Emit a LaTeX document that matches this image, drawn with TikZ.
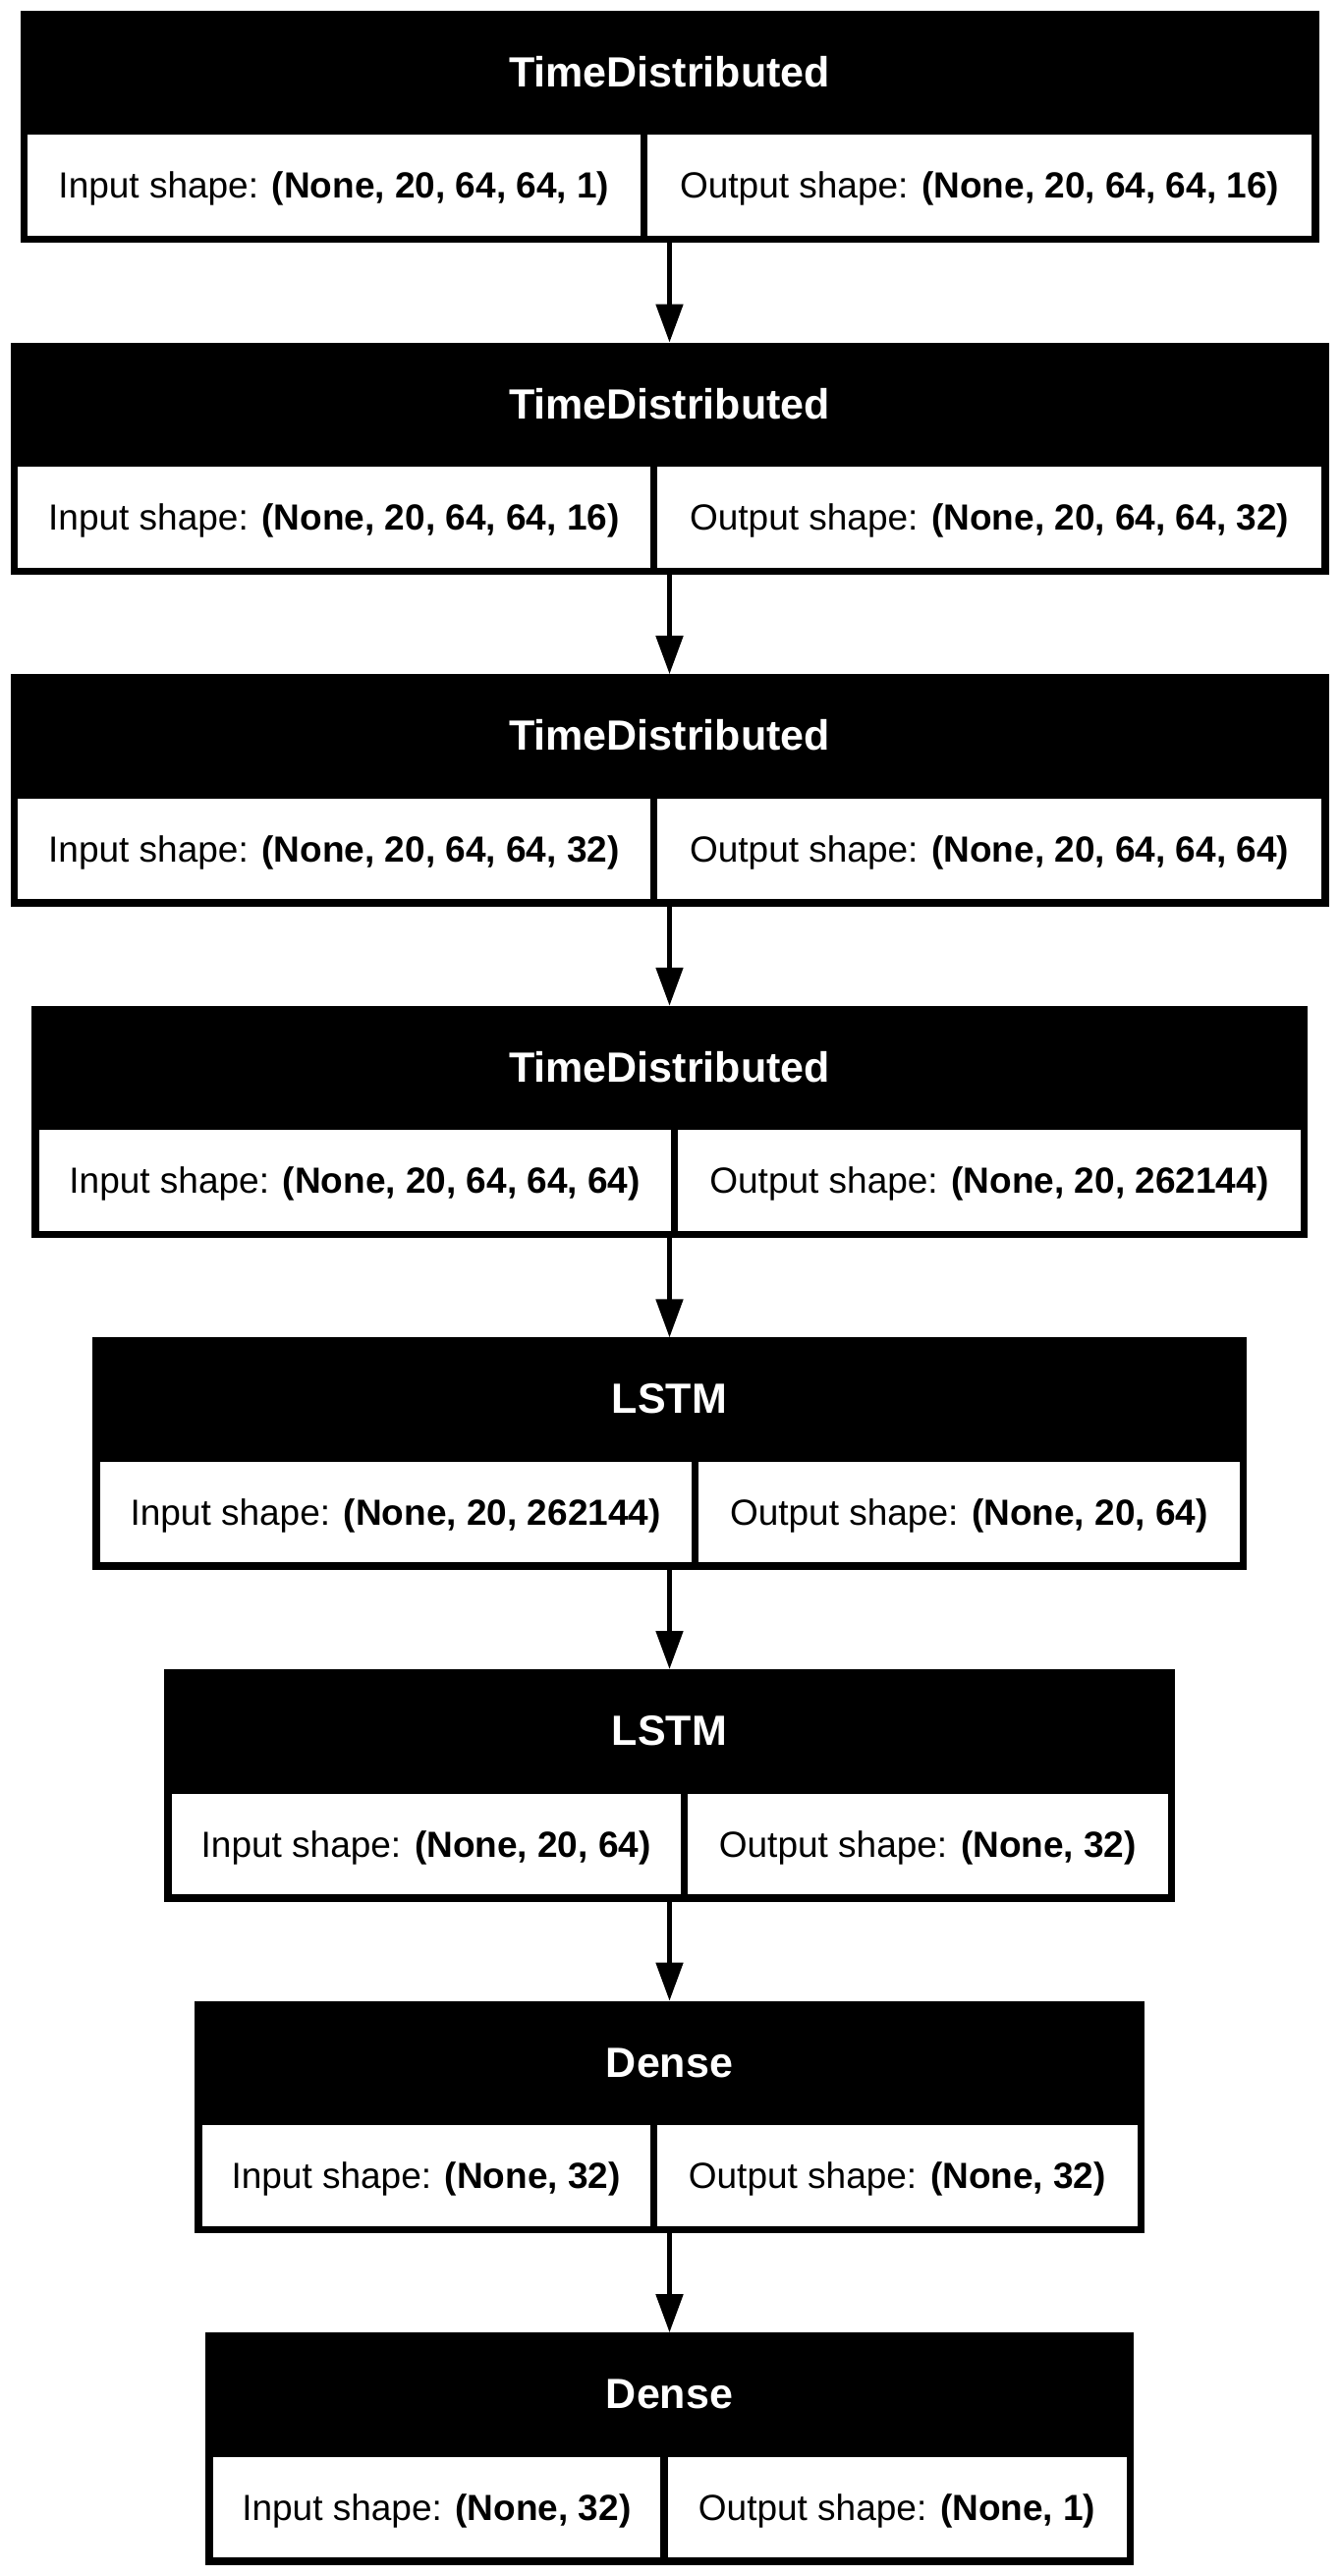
\documentclass[tikz,border=0pt]{standalone}
\usepackage{fontspec}
\setmainfont{Liberation Sans}
\usepackage{tikz}
\usetikzlibrary{arrows.meta}

\begin{document}
\begin{tikzpicture}[x=1pt,y=1pt,
	layerbox/.style={fill=black,inner sep=0pt,outer sep=0pt,minimum height=236.5pt,anchor=north},
	layername/.style={text=white,inner sep=0pt,text height=30.8pt,text depth=0pt,font=\fontsize{43}{50}\selectfont\bfseries},
	shapecell/.style={fill=white,inner sep=0pt,outer sep=0pt,minimum height=102.5pt,text height=26.5pt,text depth=0pt,font=\fontsize{37}{44}\selectfont},
	flow/.style={line width=5pt,-{Triangle[length=39pt,width=27pt]}}]

	\path[fill=white,use as bounding box] (0,0) rectangle (1363,-2622);

	% layers
	\foreach \i/\nm/\hw/\dv/\inp/\outp in {
		1/TimeDistributed/661/655.5/{(None, 20, 64, 64, 1)}/{(None, 20, 64, 64, 16)},
		2/TimeDistributed/671/665.5/{(None, 20, 64, 64, 16)}/{(None, 20, 64, 64, 32)},
		3/TimeDistributed/671/665.5/{(None, 20, 64, 64, 32)}/{(None, 20, 64, 64, 64)},
		4/TimeDistributed/649.5/686.5/{(None, 20, 64, 64, 64)}/{(None, 20, 262144)},
		5/LSTM/587.5/707.5/{(None, 20, 262144)}/{(None, 20, 64)},
		6/LSTM/514.5/696.5/{(None, 20, 64)}/{(None, 32)},
		7/Dense/483.5/665.5/{(None, 32)}/{(None, 32)},
		8/Dense/472.5/676/{(None, 32)}/{(None, 1)}} {
		\pgfmathsetmacro{\ty}{-11-(\i-1)*337.6}
		\pgfmathsetmacro{\xl}{681.5-\hw+7.5}
		\pgfmathsetmacro{\xr}{681.5+\hw-7.5}
		\node[layerbox,minimum width=2*\hw] (L\i) at (681.5,\ty) {};
		\node[layername] (N\i) at (681.5,\ty-62) {\nm};
		\node[shapecell,minimum width=\dv-3.75-\xl,anchor=north west] (I\i) at (\xl,\ty-126.5) {Input shape: \textbf{\inp}};
		\node[shapecell,minimum width=\xr-\dv-3.75,anchor=north east] (O\i) at (\xr,\ty-126.5) {Output shape: \textbf{\outp}};
	}

	% arrows
	\foreach \i in {1,...,7} {
		\pgfmathtruncatemacro{\j}{\i+1}
		\draw[flow] (L\i.south) -- (L\j.north);
	}

\end{tikzpicture}
\end{document}
